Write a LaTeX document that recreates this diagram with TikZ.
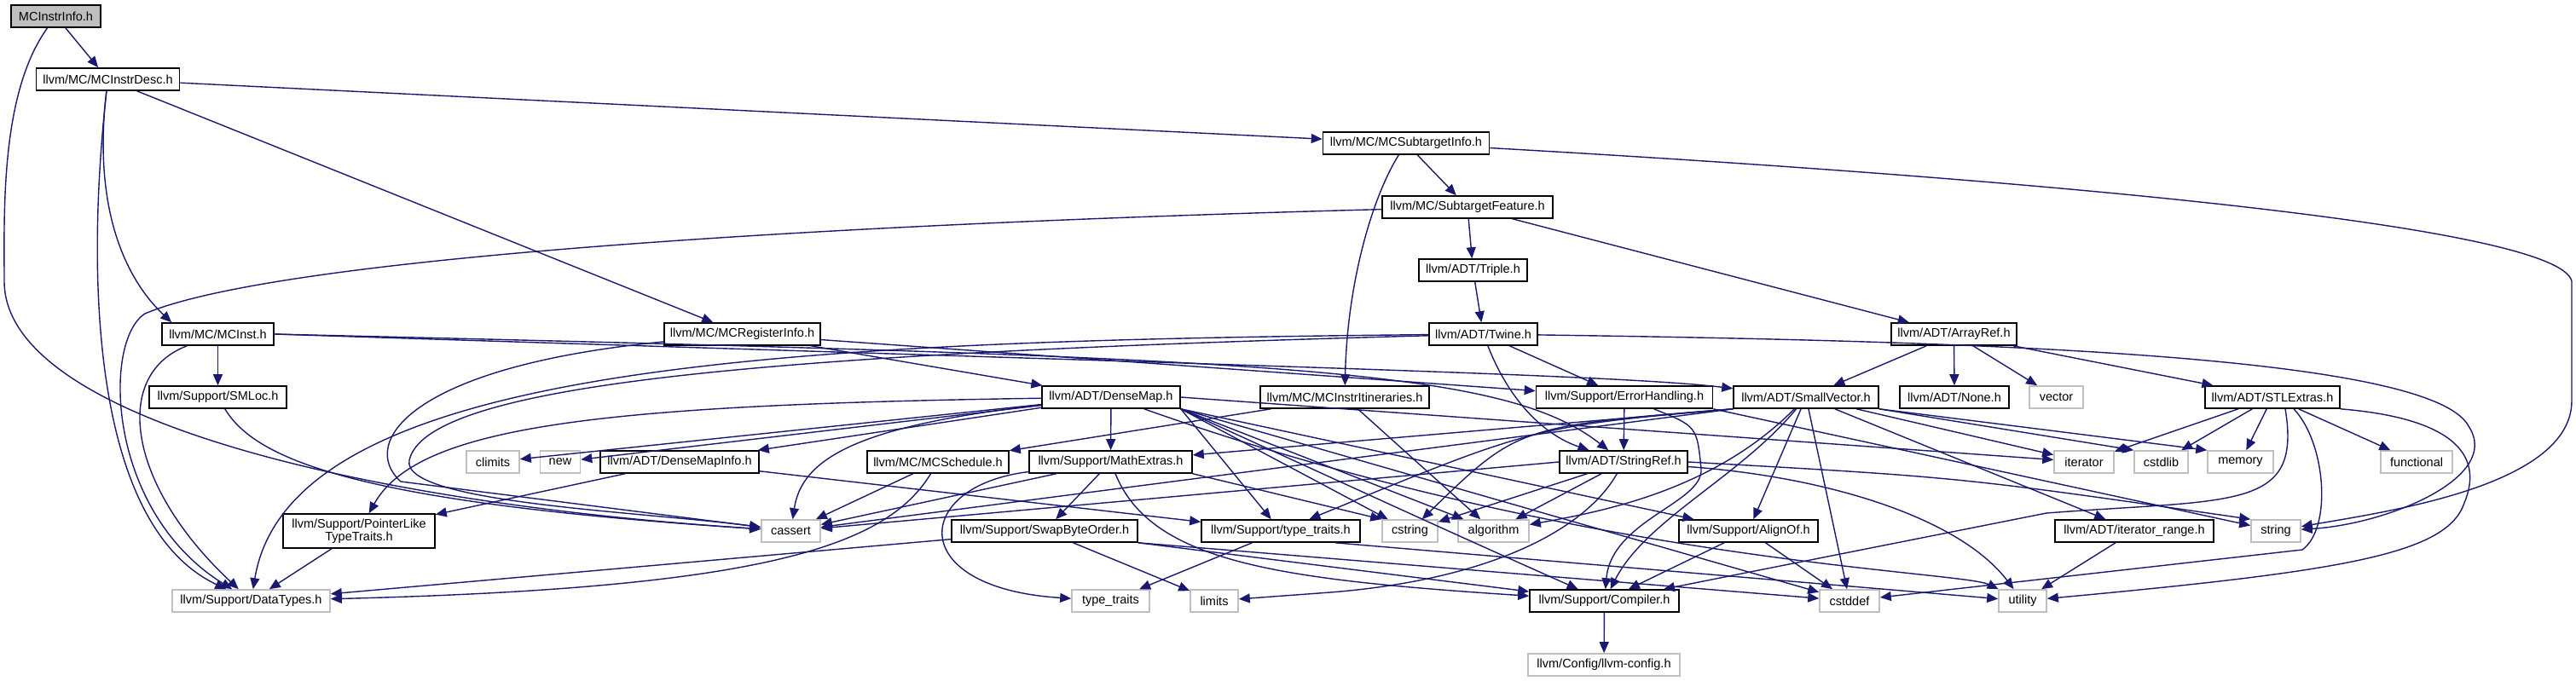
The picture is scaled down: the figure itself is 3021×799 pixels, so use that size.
\documentclass[tikz,border=0pt]{standalone}
\usepackage{fontspec}
\setmainfont{Liberation Sans}
\usepackage{tikz}
\usetikzlibrary{arrows.meta}
\definecolor{incblue}{HTML}{191970}
\definecolor{grey75}{HTML}{BFBFBF}
\newcommand{\hdrfont}{\fontsize{14.5}{15}\selectfont}
\tikzset{
  hdr/.style={rectangle, draw=black, fill=white, line width=1.6pt, inner xsep=4pt, inner ysep=0pt, minimum height=26pt, font=\hdrfont},
  sys/.style={hdr, draw=grey75},
  hdrroot/.style={hdr, fill=grey75},
  inc/.style={draw=incblue, line width=1.4pt, -{Triangle[length=13pt,width=11pt]}}
}
\begin{document}
\begin{tikzpicture}[x=1pt,y=-1pt]
  \useasboundingbox (0,0) rectangle (3021,799);
  % headers
  \node[hdrroot, minimum width=105pt] (info) at (65.5,19) {MCInstrInfo.h};
  \node[hdr, minimum width=168pt] (desc) at (126.5,93) {llvm/MC/MCInstrDesc.h};
  \node[hdr, minimum width=195pt] (subinfo) at (1649,168) {llvm/MC/MCSubtargetInfo.h};
  \node[hdr, minimum width=200pt] (feature) at (1721,243) {llvm/MC/SubtargetFeature.h};
  \node[hdr, minimum width=127pt] (triple) at (1727.5,317) {llvm/ADT/Triple.h};
  \node[hdr, minimum width=131pt] (inst) at (255.5,392) {llvm/MC/MCInst.h};
  \node[hdr, minimum width=183pt] (reginfo) at (870.5,392) {llvm/MC/MCRegisterInfo.h};
  \node[hdr, minimum width=127pt] (twine) at (1739.5,392) {llvm/ADT/Twine.h};
  \node[hdr, minimum width=147pt] (arrayref) at (2291.5,392) {llvm/ADT/ArrayRef.h};
  \node[hdr, minimum width=161pt] (smloc) at (255.5,466) {llvm/Support/SMLoc.h};
  \node[hdr, minimum width=162pt] (densemap) at (1303,466) {llvm/ADT/DenseMap.h};
  \node[hdr, minimum width=198pt] (itin) at (1577,466) {llvm/MC/MCInstrItineraries.h};
  \node[hdr, minimum width=207pt] (errh) at (1905,466) {llvm/Support/ErrorHandling.h};
  \node[hdr, minimum width=170pt] (smallvec) at (2118,466) {llvm/ADT/SmallVector.h};
  \node[hdr, minimum width=128pt] (none) at (2292,466) {llvm/ADT/None.h};
  \node[sys, minimum width=63pt] (vector) at (2411.5,466) {vector};
  \node[hdr, minimum width=158pt] (stlextras) at (2665,466) {llvm/ADT/STLExtras.h};
  \node[sys, minimum width=62pt] (climits) at (578,542) {climits};
  \node[sys, minimum width=47pt] (new) at (657,542) {new};
  \node[hdr, minimum width=186pt] (dmapinfo) at (797,542) {llvm/ADT/DenseMapInfo.h};
  \node[hdr, minimum width=166pt] (sched) at (1100,542) {llvm/MC/MCSchedule.h};
  \node[hdr, minimum width=191pt] (mathext) at (1302.5,542) {llvm/Support/MathExtras.h};
  \node[hdr, minimum width=150pt] (stringref) at (1904,542) {llvm/ADT/StringRef.h};
  \node[sys, minimum width=70pt] (iterator) at (2444,542) {iterator};
  \node[sys, minimum width=63pt] (cstdlib) at (2534.5,542) {cstdlib};
  \node[sys, minimum width=77pt] (memory) at (2627.5,542) {memory};
  \node[sys, minimum width=84pt] (functional) at (2834,542) {functional};
  \node[hdr, minimum width=178pt, minimum height=40pt, align=center] (ptrtraits) at (421,623) {llvm/Support/PointerLike\\TypeTraits.h};
  \node[sys, minimum width=69pt] (cassert) at (927.5,623) {cassert};
  \node[hdr, minimum width=218pt] (swap) at (1225,623) {llvm/Support/SwapByteOrder.h};
  \node[hdr, minimum width=186pt] (typetr) at (1502,623) {llvm/Support/type\_traits.h};
  \node[sys, minimum width=65pt] (cstring) at (1653.5,623) {cstring};
  \node[sys, minimum width=83pt] (algorithm) at (1751.5,623) {algorithm};
  \node[hdr, minimum width=163pt] (alignof) at (2050.5,623) {llvm/Support/AlignOf.h};
  \node[hdr, minimum width=186pt] (itrange) at (2503,623) {llvm/ADT/iterator\_range.h};
  \node[sys, minimum width=58pt] (string) at (2669,623) {string};
  \node[sys, minimum width=185pt] (datatypes) at (294.5,705) {llvm/Support/DataTypes.h};
  \node[sys, minimum width=91pt] (stdtraits) at (1302.5,705) {type\_traits};
  \node[sys, minimum width=56pt] (limits) at (1424,705) {limits};
  \node[hdr, minimum width=175pt] (compiler) at (1881.5,705) {llvm/Support/Compiler.h};
  \node[sys, minimum width=70pt] (cstddef) at (2169,705) {cstddef};
  \node[sys, minimum width=56pt] (utility) at (2372,705) {utility};
  \node[sys, minimum width=178pt] (config) at (1881,780) {llvm/Config/llvm-config.h};
  % includes
  \draw[inc] (info) -- (desc);
  \draw[inc] (info) .. controls (0,110) and (5,250) .. (5,330) .. controls (5,490) and (420,590) .. (cassert);
  \draw[inc] (desc) -- (subinfo);
  \draw[inc] (desc) -- (reginfo);
  \draw[inc] (desc) .. controls (108,250) and (150,330) .. ([xshift=12pt]inst.north west);
  \draw[inc] (desc) .. controls (98,350) and (115,620) .. (datatypes);
  \draw[inc] (subinfo) -- (feature);
  \draw[inc] (subinfo) .. controls (1610,230) and (1580,330) .. (itin);
  \draw[inc] (subinfo) .. controls (2300,205) and (3000,260) .. (3016,330) -- (3016,470) .. controls (3016,570) and (2800,600) .. (string);
  \draw[inc] (feature) -- (triple);
  \draw[inc] (feature) -- (arrayref);
  \draw[inc] (feature) .. controls (1000,262) and (330,300) .. (170,368) .. controls (120,400) and (125,600) .. (datatypes);
  \draw[inc] (triple) -- (twine);
  \draw[inc] (inst) -- (smloc);
  \draw[inc] ([xshift=30pt]inst.south west) .. controls (130,440) and (150,570) .. (datatypes);
  \draw[inc] (inst.east) .. controls (1500,430) and (1900,440) .. (smallvec);
  \draw[inc] (inst.east) .. controls (1500,420) and (1760,430) .. (stringref);
  \draw[inc] (reginfo) -- (densemap);
  \draw[inc] (reginfo) -- (errh);
  \draw[inc] (reginfo) .. controls (480,430) and (420,520) .. (470,565) -- (cassert);
  \draw[inc] (twine) -- (errh);
  \draw[inc] (twine) .. controls (1770,470) and (1810,510) .. (stringref);
  \draw[inc] (twine) .. controls (900,400) and (340,430) .. (datatypes);
  \draw[inc] (twine) .. controls (900,415) and (500,450) .. (480,540) .. controls (470,590) and (750,600) .. (cassert);
  \draw[inc] (twine) .. controls (2300,400) and (2850,415) .. (2895,500) .. controls (2935,560) and (2800,615) .. (string);
  \draw[inc] (arrayref) -- (smallvec);
  \draw[inc] (arrayref) -- (none);
  \draw[inc] (arrayref) -- (vector);
  \draw[inc] (arrayref) -- (stlextras);
  \draw[inc] (smloc) .. controls (300,540) and (420,590) .. (cassert);
  \draw[inc] (densemap) -- (climits);
  \draw[inc] (densemap) -- (new);
  \draw[inc] (densemap) -- (dmapinfo);
  \draw[inc] (densemap) .. controls (700,475) and (490,500) .. (ptrtraits);
  \draw[inc] (densemap) .. controls (1000,500) and (940,540) .. (cassert);
  \draw[inc] (densemap) -- (mathext);
  \draw[inc] (densemap.south east) -- (typetr);
  \draw[inc] (densemap.south east) -- (cstring);
  \draw[inc] (densemap.south east) -- (algorithm);
  \draw[inc] (densemap.south east) -- (alignof);
  \draw[inc] (densemap.south east) .. controls (1698,623) .. (compiler);
  \draw[inc] (densemap.south east) -- (cstddef);
  \draw[inc] (densemap.east) -- (iterator);
  \draw[inc] (densemap) .. controls (1850,660) and (2300,670) .. (utility);
  \draw[inc] (itin) -- (sched);
  \draw[inc] (itin) -- (algorithm);
  \draw[inc] (errh) -- (stringref);
  \draw[inc] (errh) .. controls (1990,500) .. (1995,550) .. controls (1998,590) and (1890,610) .. (compiler);
  \draw[inc] (errh.south east) -- (string);
  \draw[inc] (smallvec.south west) -- (mathext);
  \draw[inc] (smallvec.south west) -- (cassert);
  \draw[inc] (smallvec.south west) .. controls (1800,500) .. (typetr);
  \draw[inc] (smallvec.south west) .. controls (1780,500) .. (cstring);
  \draw[inc] (smallvec) .. controls (2010,575) and (1880,600) .. (algorithm);
  \draw[inc] (smallvec) .. controls (2040,560) and (1930,610) .. (compiler);
  \draw[inc] (smallvec) -- (alignof);
  \draw[inc] (smallvec) -- (cstddef);
  \draw[inc] (smallvec) -- (iterator);
  \draw[inc] (smallvec.south east) -- (cstdlib.north west);
  \draw[inc] (smallvec.south east) -- (memory.north west);
  \draw[inc] (smallvec) -- (itrange);
  \draw[inc] (stlextras) -- (iterator);
  \draw[inc] (stlextras) -- (cstdlib);
  \draw[inc] (stlextras) -- (memory);
  \draw[inc] (stlextras) -- (functional);
  \draw[inc] ([xshift=15pt]stlextras.south) .. controls (2700,600) and (2620,585) .. (2400,602) -- (compiler);
  \draw[inc] ([xshift=25pt]stlextras.south) .. controls (2728,520) and (2735,620) .. (2700,645) -- (cstddef);
  \draw[inc] (stlextras.south east) .. controls (2870,490) and (2915,530) .. (2890,590) .. controls (2870,650) and (2750,670) .. (utility);
  \draw[inc] (stringref) -- (cstring);
  \draw[inc] (stringref) -- (algorithm);
  \draw[inc] (stringref) .. controls (1860,620) and (1750,680) .. (1560,695) -- (limits);
  \draw[inc] (stringref.west) -- (cassert);
  \draw[inc] (stringref.east) .. controls (2300,560) .. (string.north west);
  \draw[inc] (stringref) .. controls (2150,560) and (2300,610) .. (utility);
  \draw[inc] (dmapinfo) -- (ptrtraits);
  \draw[inc] (dmapinfo) -- (typetr);
  \draw[inc] (sched) -- (cassert);
  \draw[inc] (sched) .. controls (1040,640) and (900,690) .. (datatypes);
  \draw[inc] (mathext) -- (cassert);
  \draw[inc] (mathext) -- (swap);
  \draw[inc] (mathext) .. controls (1070,570) and (1060,690) .. (stdtraits);
  \draw[inc] (mathext) .. controls (1350,660) and (1500,680) .. (compiler);
  \draw[inc] (mathext.south east) -- (cstring.north west);
  \draw[inc] (swap) -- (datatypes);
  \draw[inc] (swap) -- (limits);
  \draw[inc] (swap.south east) -- (compiler);
  \draw[inc] (swap.south east) -- (cstddef);
  \draw[inc] (typetr) -- (stdtraits);
  \draw[inc] ([xshift=-30pt]typetr.south east) -- (utility);
  \draw[inc] (alignof) -- (compiler);
  \draw[inc] (alignof) -- (cstddef);
  \draw[inc] (itrange) -- (utility);
  \draw[inc] (ptrtraits) -- (datatypes);
  \draw[inc] (compiler) -- (config);
\end{tikzpicture}
\end{document}
